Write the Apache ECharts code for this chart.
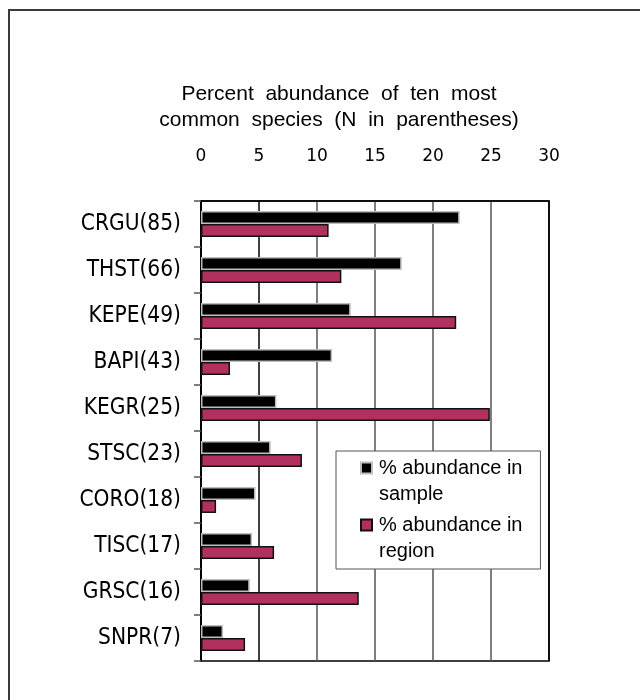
<!DOCTYPE html>
<html>
<head>
<meta charset="utf-8">
<script src="https://cdn.jsdelivr.net/npm/echarts@6/dist/echarts.min.js"></script>
<style>
  html, body { margin: 0; padding: 0; background: #fff; }
  #chart { width: 640px; height: 700px; }
</style>
</head>
<body>
<div id="chart"></div>
<script>
// Ten most common species, N in parentheses
const species = ['CRGU(85)', 'THST(66)', 'KEPE(49)', 'BAPI(43)', 'KEGR(25)',
                 'STSC(23)', 'CORO(18)', 'TISC(17)', 'GRSC(16)', 'SNPR(7)'];
// Percent abundance in the sample
const sampleValues = [22.3, 17.3, 12.9, 11.3, 6.5, 6.0, 4.7, 4.4, 4.2, 1.9];
// Percent abundance in the region
const regionValues = [11.0, 12.1, 22.0, 2.5, 24.9, 8.7, 1.3, 6.3, 13.6, 3.8];
const seriesNames = ['% abundance in sample', '% abundance in region'];
const titleLines = ['Percent  abundance  of  ten  most', 'common  species  (N  in  parentheses)'];

const chart = echarts.init(document.getElementById('chart'), null, { renderer: 'canvas' });

// Square swatch sitting at the top of a taller legend slot, so it lines up
// with the first line of the two-line legend text.
const swatch = 'path://M0,0h11v11h-11z M0,37';

chart.setOption({
  animation: false,
  backgroundColor: '#fff',
  graphic: [
    {
      type: 'rect', z: -1, silent: true,
      shape: { x: 9, y: 10, width: 1000, height: 1000 },
      style: { fill: 'none', stroke: '#3a3a3a', lineWidth: 2 }
    },
    {
      type: 'text', silent: true,
      style: {
        text: titleLines[0], x: 339, y: 94,
        fontSize: 21, fontFamily: 'Liberation Sans', fill: '#000',
        align: 'center', verticalAlign: 'middle',
        textAlign: 'center', textVerticalAlign: 'middle'
      }
    },
    {
      type: 'text', silent: true,
      style: {
        text: titleLines[1], x: 339, y: 120,
        fontSize: 21, fontFamily: 'Liberation Sans', fill: '#000',
        align: 'center', verticalAlign: 'middle',
        textAlign: 'center', textVerticalAlign: 'middle'
      }
    }
  ],
  grid: {
    left: 201, right: 91, top: 201, bottom: 39,
    show: true, borderColor: '#000', borderWidth: 1.5, backgroundColor: 'transparent',
    outerBoundsMode: 'none'
  },
  legend: {
    orient: 'vertical',
    left: 336, top: 451,
    padding: [4, 18, 5, 24],
    itemWidth: 11, itemHeight: 37, itemGap: 5,
    icon: swatch,
    borderColor: '#555', borderWidth: 1, backgroundColor: '#fff',
    selectedMode: false,
    formatter: name => name.replace(' in ', ' in\n'),
    textStyle: {
      fontSize: 20, fontFamily: 'Liberation Sans', color: '#000',
      lineHeight: 26, padding: [0, 0, 0, 2]
    },
    data: seriesNames
  },
  xAxis: {
    type: 'value', position: 'top',
    min: 0, max: 30, interval: 5,
    axisLine: { show: true, lineStyle: { color: '#000', width: 1.5 } },
    axisTick: { show: false },
    axisLabel: {
      color: '#000', fontSize: 17, fontFamily: 'DejaVu Sans', margin: 36
    },
    splitLine: {
      show: true,
      lineStyle: { color: ['#000', '#000', '#555', '#555', '#555', '#555', '#000'], width: 1.5 }
    }
  },
  yAxis: {
    type: 'category', inverse: true, data: species,
    axisLine: { show: true, lineStyle: { color: '#000', width: 1.5 } },
    axisTick: { show: true, length: 7, alignWithLabel: false, lineStyle: { color: '#555', width: 1.5 } },
    axisLabel: { color: '#000', fontSize: 22.5, fontFamily: 'DejaVu Sans Condensed', margin: 20 },
    splitLine: { show: false }
  },
  series: [
    {
      name: seriesNames[0], type: 'bar', data: sampleValues,
      barWidth: 13, barGap: '0%',
      itemStyle: { color: '#000', borderColor: '#bdbdbd', borderWidth: 1.5 }
    },
    {
      name: seriesNames[1], type: 'bar', data: regionValues,
      barWidth: 13, barGap: '0%',
      itemStyle: { color: '#b03060', borderColor: '#111', borderWidth: 1.5 }
    }
  ]
});
</script>
</body>
</html>
